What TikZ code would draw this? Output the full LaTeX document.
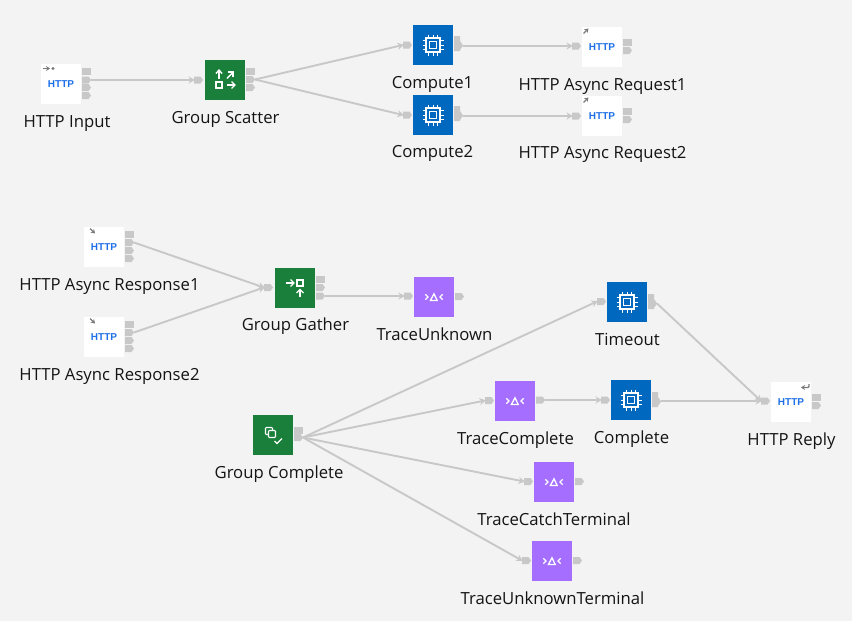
\documentclass[tikz,border=0pt]{standalone}
\usepackage{fontspec}
\setmainfont{Open Sans}
\newfontfamily\httpfont{Liberation Sans}
\usetikzlibrary{arrows.meta}
\definecolor{bgc}{HTML}{F3F3F3}
\definecolor{portc}{HTML}{C8C8C8}
\definecolor{linec}{HTML}{C8C8C8}
\definecolor{greenc}{HTML}{197F3A}
\definecolor{bluec}{HTML}{0069BF}
\definecolor{purplec}{HTML}{A56EFF}
\definecolor{httpc}{HTML}{1F70E8}
\definecolor{badgec}{HTML}{7A7A7A}
\tikzset{
  x=1pt,y=-1pt,
  tile/.style={minimum size=40pt,inner sep=0pt,outer sep=0pt,anchor=north west},
  greentile/.style={tile,fill=greenc},
  bluetile/.style={tile,fill=bluec},
  purpletile/.style={tile,fill=purplec},
  whitetile/.style={tile,fill=white},
  caption/.style={font=\fontsize{16.7}{19}\selectfont,text=black!92,inner sep=0pt,text height=12pt,text depth=4pt,yshift=-1.5pt},
  portnode/.style={minimum width=9pt,minimum height=7pt,inner sep=0pt,outer sep=0pt,anchor=north west},
  wire/.style={draw=linec,line width=1.9pt,-{Stealth[length=6.5pt,width=7pt]},shorten >=-1pt},
  ico/.style={draw=white,line width=1.4pt},
  badge/.style={draw=badgec,line width=1.2pt},
  httptext/.style={font=\httpfont\fontsize{10}{10}\selectfont\bfseries,text=httpc,inner sep=0pt}
}
% arrow-shaped port: name, x, y
\newcommand{\arrowport}[3]{%
  \fill[portc] (#2,#3) -- ++(6.5,0) -- ++(2.5,3.5) -- ++(-2.5,3.5) -- ++(-6.5,0) -- cycle;
  \node[portnode] (#1) at (#2,#3) {};}
% square port
\newcommand{\squareport}[3]{%
  \fill[portc] (#2,#3) rectangle ++(9,7);
  \node[portnode] (#1) at (#2,#3) {};}
% joined square and arrow port of a compute node: name, x, y (top), y of node
\newcommand{\joinport}[4]{%
  \fill[portc] (#2,#3) -- ++(6,0) -- ++(0,5) -- ++(3,4.5) -- ++(-3,4.5) -- ++(0,1) -- ++(-6,0) -- cycle;
  \node[portnode] (#1) at (#2,#4) {};}
% icons: x, y of tile
\newcommand{\chipicon}[2]{%
  \begin{scope}[shift={(#1,#2)}]
    \draw[ico,line width=1.1pt] (13,13) rectangle (27,27);
    \draw[ico,line width=1pt] (16.8,16.8) rectangle (23.2,23.2);
    \foreach \k in {15.5,20,24.5}{
      \draw[ico,line width=0.9pt] (\k,9.5) -- (\k,13);
      \draw[ico,line width=0.9pt] (\k,27) -- (\k,30.5);
      \draw[ico,line width=0.9pt] (9.5,\k) -- (13,\k);
      \draw[ico,line width=0.9pt] (27,\k) -- (30.5,\k);
    }
  \end{scope}}
\newcommand{\traceicon}[2]{%
  \begin{scope}[shift={(#1,#2)}]
    \draw[ico,line width=1.3pt] (11.3,17.3) -- (14,20) -- (11.3,22.7);
    \draw[ico,line width=1.3pt,line join=miter] (20,16.8) -- (23.2,23.5) -- (16.4,23.5) -- cycle;
    \draw[ico,line width=1.3pt] (28.7,17.3) -- (26,20) -- (28.7,22.7);
  \end{scope}}
\newcommand{\scattericon}[2]{%
  \begin{scope}[shift={(#1,#2)}]
    \draw[ico] (14,18.5) -- (14,10.5);
    \draw[ico] (10.8,13.5) -- (14,10.2) -- (17.2,13.5);
    \draw[ico] (22,18.5) -- (28,12.2);
    \draw[ico] (23,12) -- (28,12) -- (28,17);
    \draw[ico] (11,22) rectangle (17,28);
    \draw[ico] (22,25) -- (30,25);
    \draw[ico] (26.5,21.5) -- (30,25) -- (26.5,28.5);
  \end{scope}}
\newcommand{\gathericon}[2]{%
  \begin{scope}[shift={(#1,#2)}]
    \draw[ico] (11,15) -- (19,15);
    \draw[ico] (15.5,11.5) -- (19,15) -- (15.5,18.5);
    \draw[ico] (22,12) rectangle (28,18);
    \draw[ico] (25,29) -- (25,21.5);
    \draw[ico] (21.5,25) -- (25,21.5) -- (28.5,25);
  \end{scope}}
\newcommand{\completeicon}[2]{%
  \begin{scope}[shift={(#1,#2)}]
    \draw[ico,line width=1.1pt,rounded corners=0.8pt] (15.5,19.5) -- (12.5,19.5) -- (12.5,12.5) -- (19.5,12.5) -- (19.5,15.5);
    \draw[ico,line width=1.1pt,rounded corners=0.8pt] (15.5,15.5) rectangle (22.5,22.5);
    \draw[ico] (21.5,26) -- (24,28.5) -- (29,23.5);
  \end{scope}}
\newcommand{\httpword}[2]{\node[httptext] at (#1+20,#2+20) {HTTP};}
\begin{document}
\begin{tikzpicture}
\useasboundingbox (0,0) rectangle (852,621);
\fill[bgc] (0,0) rectangle (852,621);

% tiles
\node[whitetile] (hi) at (41,64) {};
\node[greentile] (gs) at (205,60) {};
\node[bluetile] (c1) at (413,25) {};
\node[bluetile] (c2) at (413,95) {};
\node[whitetile] (r1) at (582,27) {};
\node[whitetile] (r2) at (582,96) {};
\node[whitetile] (a1) at (84,227) {};
\node[whitetile] (a2) at (84,317) {};
\node[greentile] (gg) at (275,268) {};
\node[purpletile] (tu) at (414,277) {};
\node[bluetile] (to) at (607,282) {};
\node[greentile] (gc) at (253,415) {};
\node[purpletile] (tc) at (495,381) {};
\node[bluetile] (co) at (611,380) {};
\node[whitetile] (hr) at (771,382) {};
\node[purpletile] (tct) at (534,462) {};
\node[purpletile] (tut) at (532,541) {};

% icons
\httpword{41}{64} \httpword{582}{27} \httpword{582}{96} \httpword{84}{227} \httpword{84}{317} \httpword{771}{382}
\scattericon{205}{60}
\gathericon{275}{268}
\completeicon{253}{415}
\chipicon{413}{25} \chipicon{413}{95} \chipicon{607}{282} \chipicon{611}{380}
\traceicon{414}{277} \traceicon{495}{381} \traceicon{534}{462} \traceicon{532}{541}

% badges
\begin{scope}[shift={(41,64)}]
  \draw[badge,-{Stealth[length=4pt,width=5pt]}] (1.5,4.5) -- (9,4.5);
  \fill[badgec] (12,4.5) circle (1.6);
\end{scope}
\foreach \px/\py in {582/27,582/96}{
  \draw[badge,-{Stealth[length=4pt,width=5pt]}] (\px+1.5,\py+6.5) -- (\px+6.5,\py+1.5);
}
\foreach \px/\py in {84/227,84/317}{
  \draw[badge,-{Stealth[length=4pt,width=5pt]}] (\px+6,\py+1.5) -- (\px+11,\py+6.5);
}
\begin{scope}[shift={(771,382)}]
  \draw[badge,rounded corners=1pt,-{Stealth[length=4pt,width=5pt]}] (38,2) -- (38,5.5) -- (30,5.5);
\end{scope}

% ports
\squareport{hi0}{82}{68} \arrowport{hi1}{82}{76.5} \arrowport{hi2}{82}{84} \arrowport{hi3}{82}{92}
\arrowport{gsi}{194}{76.5}
\squareport{gs0}{246}{68} \arrowport{gs1}{246}{76} \arrowport{gs2}{246}{84}
\arrowport{c1i}{403}{41.5}
\joinport{c1b}{454}{36}{42.5}
\arrowport{c2i}{403}{111.5}
\joinport{c2b}{454}{106}{112.5}
\arrowport{r1i}{572}{42.5}
\squareport{r1a}{623}{39} \arrowport{r1b}{623}{47}
\arrowport{r2i}{572}{112.5}
\squareport{r2a}{623}{108} \arrowport{r2b}{623}{116}
\squareport{a10}{125}{231} \arrowport{a11}{125}{239} \arrowport{a12}{125}{247} \arrowport{a13}{125}{255}
\squareport{a20}{125}{321} \arrowport{a21}{125}{329} \arrowport{a22}{125}{337} \arrowport{a23}{125}{345}
\arrowport{ggi}{264}{284}
\squareport{gg0}{316}{276} \arrowport{gg1}{316}{284} \arrowport{gg2}{316}{292.5}
\arrowport{tui}{404}{292.5}
\arrowport{tuo}{455}{293}
\arrowport{toi}{597}{298}
\joinport{tob}{648}{294}{300}
\squareport{gca}{294}{427} \arrowport{gcb}{294}{434}
\arrowport{tci}{485}{397}
\arrowport{tco}{536}{396.5}
\arrowport{coi}{601}{396.5}
\joinport{cob}{652}{392}{397.5}
\arrowport{hri}{761}{397.5}
\squareport{hra}{812}{394} \arrowport{hrb}{812}{402}
\arrowport{tcti}{524}{478}
\arrowport{tcto}{575}{478}
\arrowport{tuti}{522}{557}
\arrowport{tuto}{573}{557}

% connectors
\draw[wire] (hi1.east) -- (gsi.west);
\draw[wire] (gs1.east) -- (c1i.west);
\draw[wire] (gs1.east) -- (c2i.west);
\draw[wire] (c1b.east) -- (r1i.west);
\draw[wire] (c2b.east) -- (r2i.west);
\draw[wire] (a11.east) -- (ggi.west);
\draw[wire] (a21.east) -- (ggi.west);
\draw[wire] (gg2.east) -- (tui.west);
\draw[wire] (gcb.east) -- (toi.west);
\draw[wire] (gcb.east) -- (tci.west);
\draw[wire] (gcb.east) -- (tcti.west);
\draw[wire] (gcb.east) -- (tuti.west);
\draw[wire] (tco.east) -- (coi.west);
\draw[wire] (cob.east) -- (hri.west);
\draw[wire] (tob.east) -- (hri.west);

% captions
\node[caption] (lhi) at (67,122) {HTTP Input};
\node[caption] (lgs) at (225.5,118) {Group Scatter};
\node[caption] (lc1) at (432.5,83) {Compute1};
\node[caption] (lr1) at (602.5,85) {HTTP Async Request1};
\node[caption] (lc2) at (432.5,152) {Compute2};
\node[caption] (lr2) at (602.5,153) {HTTP Async Request2};
\node[caption] (la1) at (109.5,285) {HTTP Async Response1};
\node[caption] (la2) at (109.5,375) {HTTP Async Response2};
\node[caption] (lgg) at (295.5,325) {Group Gather};
\node[caption] (ltu) at (434.5,335) {TraceUnknown};
\node[caption] (lto) at (627.5,340) {Timeout};
\node[caption] (ltc) at (515.5,439) {TraceComplete};
\node[caption] (lco) at (631.5,438) {Complete};
\node[caption] (lhr) at (791.5,440) {HTTP Reply};
\node[caption] (lgc) at (279,473) {Group Complete};
\node[caption] (ltct) at (554,520) {TraceCatchTerminal};
\node[caption] (ltut) at (552.5,599) {TraceUnknownTerminal};
\end{tikzpicture}
\end{document}
